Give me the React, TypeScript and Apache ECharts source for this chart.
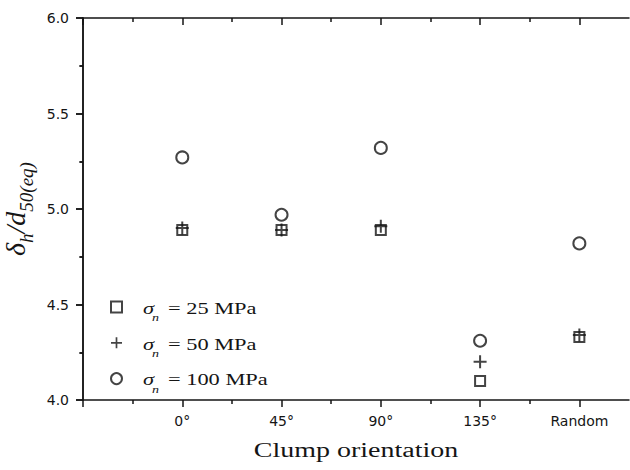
import React, { useEffect, useRef } from "react";
import * as echarts from "echarts";

const categories = ["0°", "45°", "90°", "135°", "Random"];
const sigma25 = [4.89, 4.89, 4.89, 4.1, 4.33];
const sigma50 = [4.9, 4.89, 4.91, 4.2, 4.34];
const sigma100 = [5.27, 4.97, 5.32, 4.31, 4.82];
const legendLabels = ["25 MPa", "50 MPa", "100 MPa"];
const yMin = 4.0;
const yMax = 6.0;
const yStep = 0.5;
const xMin = 0;
const xMax = 5.5;

const INK = "#151515";
const PLUS = "path://M5.5,0H7.5V5.5H13V7.5H7.5V13H5.5V7.5H0V5.5H5.5Z";

export default function App() {
  const ref = useRef<HTMLDivElement>(null);
  useEffect(() => {
    if (!ref.current) return;
    const chart = echarts.init(ref.current, null, { renderer: "svg" });
    const catPos = categories.map((_, i) => i + 1);
    const majorX = [0, ...catPos];
    const minorX = categories.map((_, i) => i + 0.5);
    const toPts = (arr: number[]) => arr.map((v, i) => [catPos[i], v]);
    const lineStyle = { color: INK, width: 1.5 };
    const serif = "Liberation Serif";

    const legendGraphics: any[] = [];
    legendLabels.forEach((lab, k) => {
      const mid = 308.5 + k * 35.8;
      legendGraphics.push(
        {
          type: "text", x: 143, y: mid, scaleX: 1.4,
          style: { text: "σ", fontFamily: serif, fontStyle: "italic", fontSize: 16, fill: INK, align: "left", verticalAlign: "middle" },
        },
        {
          type: "text", x: 152, y: mid + 9.4, scaleX: 1.4,
          style: { text: "n", fontFamily: serif, fontStyle: "italic", fontSize: 10, fill: INK, align: "left", verticalAlign: "middle" },
        },
        {
          type: "text", x: 168, y: mid, scaleX: 1.4,
          style: { text: "= " + lab, fontFamily: serif, fontSize: 16, fill: INK, align: "left", verticalAlign: "middle" },
        }
      );
    });

    const hollow = { color: "none", borderColor: INK, borderWidth: 2 };
    const solid = { color: INK, borderWidth: 0 };

    chart.setOption({
      animation: false,
      grid: { left: 83, right: 1, top: 18, bottom: 70, containLabel: false, outerBoundsMode: "none" },
      xAxis: [
        {
          type: "value", position: "bottom", min: xMin, max: xMax,
          axisLine: { show: true, lineStyle },
          axisTick: { show: true, customValues: majorX, length: 7, lineStyle },
          axisLabel: {
            show: true, customValues: catPos, margin: 14,
            formatter: (v: number) => categories[Math.round(v) - 1] ?? "",
            fontFamily: "DejaVu Sans", fontSize: 14, color: INK,
          },
          splitLine: { show: false },
        },
        {
          type: "value", position: "bottom", min: xMin, max: xMax,
          axisLine: { show: false },
          axisTick: { show: true, customValues: minorX, length: 4, lineStyle },
          axisLabel: { show: false },
          splitLine: { show: false },
        },
        {
          type: "value", position: "top", min: xMin, max: xMax,
          axisLine: { show: true, lineStyle },
          axisTick: { show: true, inside: true, customValues: majorX, length: 7, lineStyle },
          axisLabel: { show: false },
          splitLine: { show: false },
        },
        {
          type: "value", position: "top", min: xMin, max: xMax,
          axisLine: { show: false },
          axisTick: { show: true, inside: true, customValues: minorX, length: 4, lineStyle },
          axisLabel: { show: false },
          splitLine: { show: false },
        },
      ],
      yAxis: [
        {
          type: "value", position: "left", min: yMin, max: yMax, interval: yStep,
          axisLine: { show: true, lineStyle },
          axisTick: { show: true, length: 7, lineStyle },
          minorTick: { show: true, splitNumber: 2, length: 3.5, lineStyle },
          axisLabel: {
            margin: 14, fontFamily: "DejaVu Sans", fontSize: 14, color: INK,
            formatter: (v: number) => v.toFixed(1),
          },
          splitLine: { show: false },
          minorSplitLine: { show: false },
          name: "{a|δ}{b|h}{a|/d}{b|50(eq)}",
          nameLocation: "middle",
          nameGap: 47.5,
          nameTextStyle: {
            fontFamily: serif, fontStyle: "italic", fontSize: 28, color: INK,
            rich: {
              a: { fontFamily: serif, fontStyle: "italic", fontSize: 28, color: INK, verticalAlign: "top" },
              b: { fontFamily: serif, fontStyle: "italic", fontSize: 19, color: INK, verticalAlign: "bottom", lineHeight: 34 },
            },
          },
        },
        {
          type: "value", position: "right", min: yMin, max: yMax, interval: yStep,
          axisLine: { show: true, lineStyle },
          axisTick: { show: true, inside: true, length: 7, lineStyle },
          minorTick: { show: true, splitNumber: 2, length: 3.5, lineStyle },
          axisLabel: { show: false },
          splitLine: { show: false },
        },
      ],
      legend: {
        orient: "vertical", left: 108.5, top: 299, padding: 0,
        itemWidth: 11, itemHeight: 11, itemGap: 22.3,
        formatter: () => "",
        textStyle: { fontSize: 8, lineHeight: 8 },
        itemStyle: hollow,
        data: [
          { name: legendLabels[0], icon: "rect", itemStyle: hollow },
          { name: legendLabels[1], icon: PLUS, itemStyle: solid },
          { name: legendLabels[2], icon: "circle", itemStyle: hollow },
        ],
      },
      graphic: [
        {
          type: "text", x: 356, y: 450, scaleX: 1.4,
          style: { text: "Clump orientation", fontFamily: serif, fontSize: 20, fill: INK, align: "center", verticalAlign: "middle" },
        },
        ...legendGraphics,
      ],
      series: [
        {
          name: legendLabels[0], type: "scatter", xAxisIndex: 0, yAxisIndex: 0,
          symbol: "rect", symbolSize: 10, itemStyle: hollow, data: toPts(sigma25),
        },
        {
          name: legendLabels[1], type: "scatter", xAxisIndex: 0, yAxisIndex: 0,
          symbol: PLUS, symbolSize: 13, itemStyle: solid, data: toPts(sigma50),
        },
        {
          name: legendLabels[2], type: "scatter", xAxisIndex: 0, yAxisIndex: 0,
          symbol: "circle", symbolSize: 12, itemStyle: hollow, data: toPts(sigma100),
        },
      ],
    });
    return () => chart.dispose();
  }, []);
  return (
    <div
      ref={ref}
      style={{ position: "fixed", left: 0, top: 0, width: 630, height: 470, background: "#fff" }}
    />
  );
}
